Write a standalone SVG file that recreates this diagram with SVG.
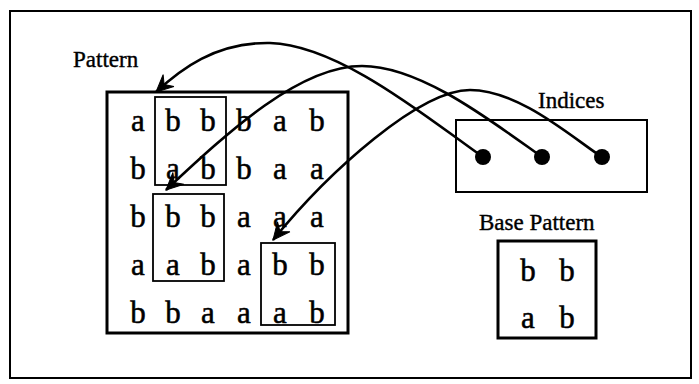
<svg xmlns="http://www.w3.org/2000/svg" width="699" height="384" viewBox="0 0 699 384">
<style>
.lbl{font-family:"Liberation Serif","Times New Roman",serif;font-size:23px;fill:#000;stroke:#000;stroke-width:0.4}
.g{font-family:"Liberation Serif","Times New Roman",serif;font-size:31px;fill:#000;stroke:#000;stroke-width:0.5;text-anchor:middle}
.thick{fill:none;stroke:#000;stroke-width:3}
.thin{fill:none;stroke:#000;stroke-width:1.8}
.conn{fill:none;stroke:#000;stroke-width:2.6}
</style>
<defs>
<marker id="ah" markerUnits="userSpaceOnUse" markerWidth="30" markerHeight="30" refX="0" refY="0" orient="auto" overflow="visible">
<path d="M0,0 L-17,-8 L-11,0 L-17,8 Z" fill="#000" stroke="#000" stroke-width="1"/>
</marker>
</defs>
<rect id="frame" x="10" y="11" width="681" height="367" fill="none" stroke="#000" stroke-width="2"/>
<g id="pattern">
<text class="lbl" x="73" y="67">Pattern</text>
<rect class="thick" x="107" y="92" width="241" height="241"/>
<rect class="thin" x="155" y="97" width="71" height="88"/>
<rect class="thin" x="153" y="194" width="71" height="87"/>
<rect class="thin" x="261" y="243" width="74" height="82"/>
<text class="g" y="131"><tspan x="138">a</tspan><tspan x="173">b</tspan><tspan x="208">b</tspan><tspan x="244">b</tspan><tspan x="280">a</tspan><tspan x="317">b</tspan></text>
<text class="g" y="179"><tspan x="138">b</tspan><tspan x="173">a</tspan><tspan x="208">b</tspan><tspan x="244">b</tspan><tspan x="280">a</tspan><tspan x="317">a</tspan></text>
<text class="g" y="227"><tspan x="138">b</tspan><tspan x="173">b</tspan><tspan x="208">b</tspan><tspan x="244">a</tspan><tspan x="280">a</tspan><tspan x="317">a</tspan></text>
<text class="g" y="275"><tspan x="138">a</tspan><tspan x="173">a</tspan><tspan x="208">b</tspan><tspan x="244">a</tspan><tspan x="280">b</tspan><tspan x="317">b</tspan></text>
<text class="g" y="323"><tspan x="138">b</tspan><tspan x="173">b</tspan><tspan x="208">a</tspan><tspan x="244">a</tspan><tspan x="280">a</tspan><tspan x="317">b</tspan></text>
</g>
<g id="indices">
<text class="lbl" x="538" y="108">Indices</text>
<rect x="456" y="120" width="191" height="72" fill="none" stroke="#000" stroke-width="2"/>
<circle cx="483" cy="157" r="8" fill="#000"/>
<circle cx="542" cy="157" r="8" fill="#000"/>
<circle cx="602" cy="157" r="8" fill="#000"/>
</g>
<g id="base">
<text class="lbl" x="479" y="230">Base Pattern</text>
<rect class="thick" x="498" y="241" width="98" height="97"/>
<text class="g" y="281"><tspan x="528">b</tspan><tspan x="567">b</tspan></text>
<text class="g" y="328"><tspan x="528">a</tspan><tspan x="567">b</tspan></text>
</g>
<g id="connectors">
<path class="conn" marker-end="url(#ah)" d="M483,157 C430,120 340,45 270,43 C215,42 180,70 156,92"/>
<path class="conn" marker-end="url(#ah)" d="M542,157 C490,120 420,66 362,66 C300,66 230,130 166,190"/>
<path class="conn" marker-end="url(#ah)" d="M602,157 C575,140 520,90 470,90 C420,90 330,170 273,240"/>
</g>
</svg>
